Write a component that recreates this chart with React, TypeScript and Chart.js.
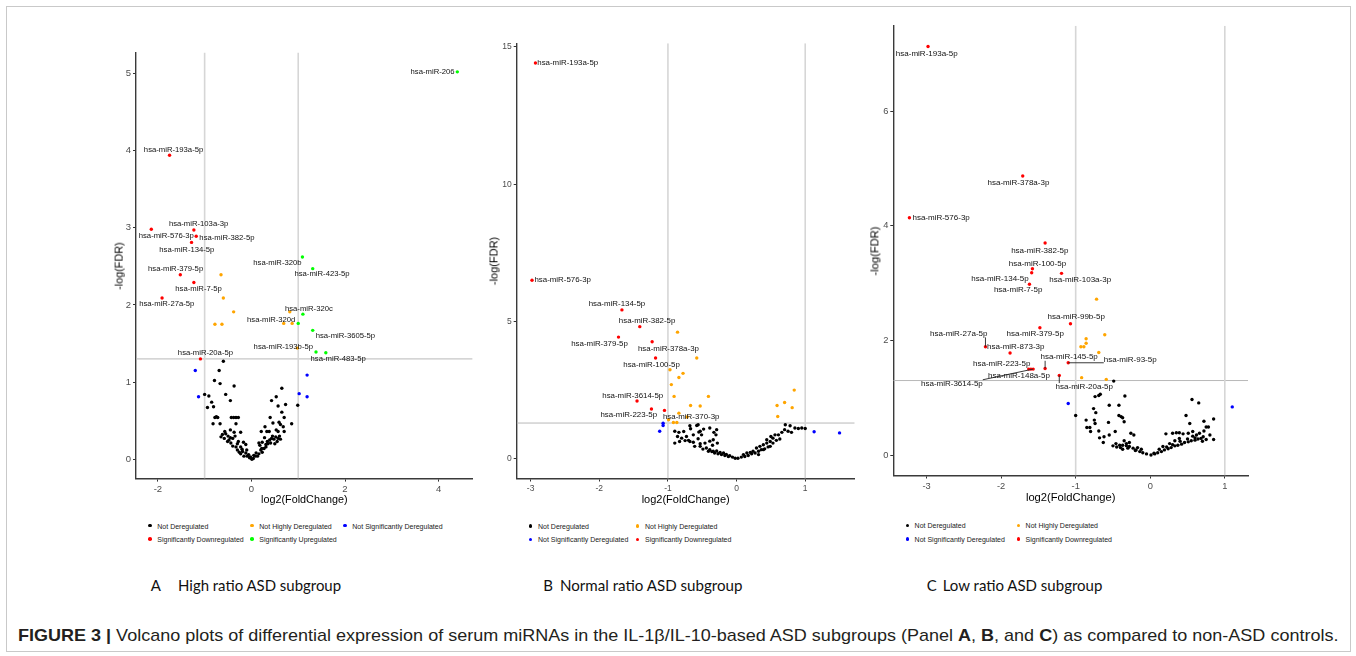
import React, { useEffect, useLayoutEffect, useRef, useState } from 'react';
import { Chart, registerables } from 'chart.js';

Chart.register(...registerables);

type P = [number, number];

// ---------- categories ----------
const CAT_NOT_DEREG = 'Not Deregulated';
const CAT_NOT_HIGHLY = 'Not Highly Deregulated';
const CAT_NOT_SIG = 'Not Significantly Deregulated';
const CAT_DOWN = 'Significantly Downregulated';
const CAT_UP = 'Significantly Upregulated';

const FC_CUTOFFS = [-1, 1];
const FDR_CUTOFF = 1.3;

// ---------- Panel A: High ratio ASD subgroup ----------
const A_NOT_DEREG: P[] = [
  [-0.60, 1.27], [-0.69, 1.15], [-0.79, 1.02], [-0.67, 0.98], [-0.37, 0.95], [-1.00, 0.84], [-0.91, 0.82],
  [-0.55, 0.84], [-0.85, 0.74], [-0.45, 0.76], [-0.94, 0.67], [-0.81, 0.68], [-0.75, 0.55], [-0.78, 0.54],
  [-0.72, 0.54], [-0.43, 0.54], [-0.38, 0.54], [-0.33, 0.54], [-0.28, 0.54], [-0.82, 0.46], [-0.67, 0.46],
  [-0.33, 0.46], [-0.57, 0.36], [-0.45, 0.38], [-0.55, 0.33], [-0.62, 0.32], [-0.65, 0.29], [-0.58, 0.27],
  [-0.48, 0.25], [-0.40, 0.27], [-0.37, 0.35], [-0.23, 0.35], [-0.28, 0.23], [-0.17, 0.22], [-0.12, 0.19],
  [-0.23, 0.16], [-0.33, 0.16], [-0.40, 0.17], [-0.44, 0.21], [-0.51, 0.23], [-0.30, 0.12], [-0.26, 0.09],
  [-0.19, 0.10], [-0.12, 0.08], [-0.06, 0.06], [-0.04, 0.02], [-0.09, 0.04], [-0.16, 0.04], [-0.23, 0.07],
  [0.01, 0.00], [0.04, 0.01], [0.08, 0.04], [0.13, 0.04], [0.16, 0.07], [0.23, 0.09], [0.20, 0.12],
  [0.27, 0.14], [0.31, 0.19], [0.16, 0.21], [0.23, 0.22], [0.34, 0.23], [0.39, 0.25], [0.43, 0.27],
  [0.48, 0.26], [0.52, 0.29], [0.57, 0.27], [0.62, 0.26], [0.55, 0.23], [0.41, 0.21], [0.31, 0.16],
  [0.22, 0.14], [0.33, 0.36], [0.38, 0.36], [0.57, 0.36], [0.70, 0.36], [0.21, 0.36], [0.53, 0.38],
  [0.65, 0.92], [0.53, 0.81], [0.43, 0.76], [0.73, 0.71], [0.57, 0.69], [0.99, 0.70], [0.65, 0.61],
  [0.40, 0.54], [0.70, 0.54], [0.59, 0.48], [0.62, 0.45], [0.46, 0.47], [0.86, 0.46], [0.68, 0.42],
  [0.29, 0.42], [-0.50, 0.30], [-0.45, 0.28], [-0.35, 0.30], [-0.30, 0.20], [-0.20, 0.13], [-0.10, 0.12],
  [0.10, 0.08], [0.18, 0.18], [0.28, 0.28], [0.45, 0.30], [0.50, 0.20], [0.60, 0.30], [0.35, 0.20],
  [0.05, 0.05], [-0.02, 0.03],
];
const A_NOT_HIGHLY: P[] = [
  [-0.65, 2.39], [-0.60, 2.09], [-0.38, 1.91], [-0.78, 1.75], [-0.63, 1.75], [0.69, 1.76], [0.87, 1.76],
  [0.82, 1.91], [0.98, 1.44],
];
const A_NOT_SIG: P[] = [[-1.20, 1.15], [-1.13, 0.81], [1.19, 1.09], [1.02, 0.85], [1.19, 0.81]];
const A_DOWN: P[] = [
  [-1.75, 3.94], [-2.14, 2.98], [-1.23, 2.97], [-1.18, 2.89], [-1.28, 2.81], [-1.52, 2.39], [-1.23, 2.29],
  [-1.91, 2.09], [-1.09, 1.30],
];
const A_DOWN_NAMES = [
  'hsa-miR-193a-5p', 'hsa-miR-576-3p', 'hsa-miR-103a-3p', 'hsa-miR-382-5p', 'hsa-miR-134-5p',
  'hsa-miR-379-5p', 'hsa-miR-7-5p', 'hsa-miR-27a-5p', 'hsa-miR-20a-5p',
];
const A_UP: P[] = [
  [4.40, 5.02], [1.09, 2.62], [1.31, 2.47], [1.10, 1.88], [1.00, 1.76], [1.31, 1.67], [1.38, 1.39], [1.59, 1.38],
];
const A_UP_NAMES = [
  'hsa-miR-206', 'hsa-miR-320b', 'hsa-miR-423-5p', 'hsa-miR-320c', 'hsa-miR-320d', 'hsa-miR-3605-5p',
  'hsa-miR-193b-5p', 'hsa-miR-483-5p',
];
const A_X_TICKS = [-2, 0, 2, 4];
const A_Y_TICKS = [0, 1, 2, 3, 4, 5];

// ---------- Panel B: Normal ratio ASD subgroup ----------
const B_NOT_DEREG: P[] = [
  [-0.90, 1.00], [-0.90, 0.57], [-0.84, 0.96], [-0.77, 0.99], [-0.67, 1.09], [-0.58, 1.21], [-0.55, 0.97],
  [-0.48, 1.08], [-0.39, 1.12], [-0.33, 0.96], [-0.30, 0.87], [-0.86, 0.81], [-0.80, 0.75], [-0.75, 0.66],
  [-0.70, 0.67], [-0.63, 0.60], [-0.56, 0.73], [-0.53, 0.55], [-0.46, 0.57], [-0.39, 0.64], [-0.35, 0.49],
  [-0.28, 0.57], [-0.44, 0.39], [-0.39, 0.33], [-0.34, 0.27], [-0.29, 0.28], [-0.24, 0.23], [-0.19, 0.21],
  [-0.15, 0.16], [-0.10, 0.11], [-0.06, 0.06], [-0.02, 0.02], [-0.12, 0.08], [-0.17, 0.12], [-0.22, 0.15],
  [-0.27, 0.18], [-0.32, 0.21], [-0.36, 0.26], [-0.41, 0.27], [-0.49, 0.35], [-0.53, 0.45], [-0.61, 0.45],
  [-0.68, 0.63], [-0.73, 0.81], [-0.83, 0.63], [-0.63, 0.87], [-0.51, 0.87], [-0.34, 0.69], [-0.29, 1.06],
  [-0.53, 1.00], [-0.68, 1.20], [-0.56, 1.24],
  [0.02, 0.02], [0.07, 0.06], [0.12, 0.08], [0.17, 0.12], [0.22, 0.18], [0.27, 0.21], [0.32, 0.27],
  [0.36, 0.33], [0.41, 0.36], [0.46, 0.43], [0.24, 0.27], [0.29, 0.39], [0.34, 0.45], [0.39, 0.51],
  [0.44, 0.57], [0.49, 0.63], [0.53, 0.75], [0.56, 0.87], [0.61, 0.87], [0.66, 0.96], [0.70, 1.06],
  [0.75, 1.00], [0.80, 0.96], [0.85, 1.12], [0.90, 1.10], [0.95, 1.12], [1.00, 1.10], [0.71, 1.24],
  [0.78, 1.20], [0.53, 0.57], [0.49, 0.45], [0.58, 0.67], [0.63, 0.72], [0.39, 0.33], [0.32, 0.15],
  [0.20, 0.23], [0.44, 0.69], [0.50, 0.81], [0.15, 0.21], [0.10, 0.15],
];
const B_NOT_HIGHLY: P[] = [
  [-0.86, 4.61], [-0.58, 3.67], [-0.97, 3.24], [-0.78, 3.11], [-0.84, 2.96], [-0.95, 2.70], [-0.91, 2.27],
  [-0.41, 2.27], [-0.67, 1.94], [-0.53, 1.92], [-0.84, 1.66], [-0.99, 1.42], [-0.92, 1.32], [-0.87, 1.32],
  [-0.72, 1.52], [0.84, 2.50], [0.70, 2.05], [0.59, 1.94], [0.81, 1.86], [0.60, 1.54],
];
const B_NOT_SIG: P[] = [[-1.07, 1.29], [-1.07, 1.21], [-1.12, 1.00], [1.13, 0.98], [1.50, 0.94]];
const B_DOWN: P[] = [
  [-2.93, 14.41], [-2.98, 6.50], [-1.67, 5.42], [-1.41, 4.81], [-1.72, 4.43], [-1.23, 4.26], [-1.18, 3.67],
  [-1.45, 2.10], [-1.24, 1.81], [-1.05, 1.76],
];
const B_DOWN_NAMES = [
  'hsa-miR-193a-5p', 'hsa-miR-576-3p', 'hsa-miR-134-5p', 'hsa-miR-382-5p', 'hsa-miR-379-5p',
  'hsa-miR-378a-3p', 'hsa-miR-100-5p', 'hsa-miR-3614-5p', 'hsa-miR-223-5p', 'hsa-miR-370-3p',
];
const B_X_TICKS = [-3, -2, -1, 0, 1];
const B_Y_TICKS = [0, 5, 10, 15];

// ---------- Panel C: Low ratio ASD subgroup ----------
const C_NOT_DEREG: P[] = [
  [-0.49, 1.29], [-0.67, 1.06], [-0.69, 1.04], [-0.74, 1.02], [-0.34, 1.03], [-0.55, 0.87], [-0.42, 0.87],
  [-0.76, 0.81], [-0.73, 0.74], [-1.00, 0.69], [-0.42, 0.69], [-0.39, 0.67], [-0.37, 0.65], [-0.35, 0.58],
  [-0.86, 0.61], [-0.75, 0.61], [-0.74, 0.55], [-0.85, 0.48], [-0.81, 0.48], [-0.80, 0.41], [-0.69, 0.42],
  [-0.56, 0.57], [-0.47, 0.41], [-0.55, 0.35], [-0.62, 0.32], [-0.68, 0.30], [-0.63, 0.22], [-0.26, 0.38],
  [-0.22, 0.35], [-0.46, 0.20], [-0.41, 0.17], [-0.37, 0.17], [-0.32, 0.16], [-0.28, 0.15], [-0.23, 0.12],
  [-0.19, 0.09], [-0.14, 0.06], [-0.10, 0.04], [-0.05, 0.02], [-0.50, 0.16], [-0.32, 0.20], [-0.17, 0.13],
  [-0.12, 0.10], [-0.37, 0.10], [-0.45, 0.14], [-0.40, 0.13], [-0.30, 0.12], [-0.20, 0.08], [-0.35, 0.25],
  [-0.28, 0.22],
  [0.01, 0.00], [0.06, 0.02], [0.10, 0.04], [0.15, 0.06], [0.19, 0.09], [0.24, 0.11], [0.28, 0.13],
  [0.33, 0.16], [0.37, 0.17], [0.42, 0.19], [0.46, 0.22], [0.51, 0.23], [0.55, 0.25], [0.60, 0.26],
  [0.64, 0.28], [0.68, 0.29], [0.21, 0.37], [0.30, 0.38], [0.35, 0.39], [0.39, 0.39], [0.44, 0.37],
  [0.51, 0.38], [0.57, 0.41], [0.66, 0.38], [0.72, 0.42], [0.75, 0.49], [0.78, 0.49], [0.53, 0.55],
  [0.72, 0.59], [0.85, 0.63], [0.48, 0.69], [0.56, 0.97], [0.65, 0.91], [0.85, 0.27], [0.57, 0.33],
  [0.62, 0.35], [0.39, 0.29], [0.33, 0.25], [0.26, 0.20], [0.17, 0.15], [0.80, 0.35], [0.71, 0.32],
  [0.05, 0.03], [0.12, 0.10], [0.22, 0.14], [0.30, 0.18], [0.40, 0.24], [0.50, 0.28], [0.60, 0.30],
  [0.70, 0.24], [0.75, 0.27],
];
const C_NOT_HIGHLY: P[] = [
  [-0.72, 2.72], [-0.61, 2.10], [-0.86, 2.03], [-0.86, 1.95], [-0.89, 1.89], [-0.93, 1.89], [-0.69, 1.79],
  [-0.92, 1.35], [-0.59, 1.32],
];
const C_NOT_SIG: P[] = [[-1.10, 0.90], [1.10, 0.84]];
const C_DOWN: P[] = [
  [-2.98, 7.13], [-1.71, 4.87], [-3.23, 4.14], [-1.41, 3.70], [-1.58, 3.25], [-1.59, 3.18], [-1.19, 3.17],
  [-1.62, 2.98], [-1.07, 2.29], [-1.48, 2.22], [-2.21, 1.89], [-1.88, 1.78], [-1.63, 1.50], [-1.41, 1.51],
  [-1.10, 1.61], [-1.60, 1.50], [-1.57, 1.50], [-1.22, 1.39],
];
const C_DOWN_NAMES = [
  'hsa-miR-193a-5p', 'hsa-miR-378a-3p', 'hsa-miR-576-3p', 'hsa-miR-382-5p', 'hsa-miR-100-5p',
  'hsa-miR-134-5p', 'hsa-miR-103a-3p', 'hsa-miR-7-5p', 'hsa-miR-99b-5p', 'hsa-miR-379-5p',
  'hsa-miR-27a-5p', 'hsa-miR-873-3p', 'hsa-miR-223-5p', 'hsa-miR-145-5p', 'hsa-miR-93-5p',
  'hsa-miR-148a-5p', 'hsa-miR-3614-5p', 'hsa-miR-20a-5p',
];
const C_X_TICKS = [-3, -2, -1, 0, 1];
const C_Y_TICKS = [0, 2, 4, 6];

// ---------- styles / layout (kept apart from the data) ----------
const FONT = '"Liberation Sans", Arial, Helvetica, sans-serif';
const COLOR: Record<string, string> = {
  [CAT_NOT_DEREG]: '#000000',
  [CAT_NOT_HIGHLY]: '#FFA500',
  [CAT_NOT_SIG]: '#0000FF',
  [CAT_DOWN]: '#FF0000',
  [CAT_UP]: '#00FF00',
};

// label offsets in px [dx, dy, segment]
const A_DOWN_OFF: [number, number, number][] = [
  [4, -5.7, 0], [15, 7, 0], [4.7, -6, 0], [30.7, 2, 0], [-4.7, 7.3, 0], [-4.7, -5.7, 0], [4.7, 6, 0],
  [4.7, 6, 0], [5, -5.7, 0],
];
const A_UP_OFF: [number, number, number][] = [
  [-24.7, 0, 0], [-25, 6, 0], [9.3, 5.7, 0], [6, -5.3, 0], [-27, -3.7, 0], [32.7, 6, 0], [-32.7, -4.7, 0],
  [12.3, 5.7, 0],
];
const B_DOWN_OFF: [number, number, number][] = [
  [32.3, 0, 0], [30.7, 0, 0], [-5, -6, 0], [7.3, -5.7, 0], [-19, 6.7, 0], [16.3, 6.7, 0], [-4, 6.7, 0],
  [-4.3, -5.7, 0], [-22.7, 6, 0], [26.7, 6, 0],
];
const C_DOWN_OFF: [number, number, number][] = [
  [-1.3, 7, 0], [-4.3, 6.7, 0], [31.7, 0, 0], [-5.3, 7.7, 0], [5, -5, 0], [-31.7, 5.7, 0], [18.7, 6.3, 0],
  [-11.3, 6, 0], [5.7, -6.7, 0], [-4.7, 6.3, 0], [-26.7, -13.3, 1], [5.7, -6, 0], [-27, -5.3, 0],
  [24, -11.7, 1], [62, -2.7, 1], [-12, 6.7, 0], [-81.3, 14.7, 1], [25, 11.7, 1],
];

type Series = { name: string; points: P[]; names?: string[]; offsets?: [number, number, number][] };

type PanelSpec = {
  series: Series[];
  xMin: number; xMax: number; yMin: number; yMax: number;
  xTicks: number[]; yTicks: number[];
  area: { left: number; top: number; right: number; bottom: number };
  canvas: { left: number; top: number; w: number; h: number };
  tickSize: number; labelSize: number;
};

const PANEL_A: PanelSpec = {
  series: [
    { name: CAT_NOT_DEREG, points: A_NOT_DEREG },
    { name: CAT_NOT_HIGHLY, points: A_NOT_HIGHLY },
    { name: CAT_NOT_SIG, points: A_NOT_SIG },
    { name: CAT_DOWN, points: A_DOWN, names: A_DOWN_NAMES, offsets: A_DOWN_OFF },
    { name: CAT_UP, points: A_UP, names: A_UP_NAMES, offsets: A_UP_OFF },
  ],
  xMin: -2.467, xMax: 4.727, yMin: -0.251, yMax: 5.271,
  xTicks: A_X_TICKS, yTicks: A_Y_TICKS,
  area: { left: 136, top: 52.5, right: 472.6, bottom: 478.6 },
  canvas: { left: 100, top: 30, w: 390, h: 470 },
  tickSize: 9.5, labelSize: 7.7,
};
const PANEL_B: PanelSpec = {
  series: [
    { name: CAT_NOT_DEREG, points: B_NOT_DEREG },
    { name: CAT_NOT_HIGHLY, points: B_NOT_HIGHLY },
    { name: CAT_NOT_SIG, points: B_NOT_SIG },
    { name: CAT_DOWN, points: B_DOWN, names: B_DOWN_NAMES, offsets: B_DOWN_OFF },
  ],
  xMin: -3.203, xMax: 1.721, yMin: -0.72, yMax: 15.13,
  xTicks: B_X_TICKS, yTicks: B_Y_TICKS,
  area: { left: 516.7, top: 43.3, right: 854.7, bottom: 478.5 },
  canvas: { left: 480, top: 20, w: 390, h: 480 },
  tickSize: 8.5, labelSize: 7.9,
};
const PANEL_C: PanelSpec = {
  series: [
    { name: CAT_NOT_DEREG, points: C_NOT_DEREG },
    { name: CAT_NOT_HIGHLY, points: C_NOT_HIGHLY },
    { name: CAT_NOT_SIG, points: C_NOT_SIG },
    { name: CAT_DOWN, points: C_DOWN, names: C_DOWN_NAMES, offsets: C_DOWN_OFF },
  ],
  xMin: -3.446, xMax: 1.311, yMin: -0.357, yMax: 7.49,
  xTicks: C_X_TICKS, yTicks: C_Y_TICKS,
  area: { left: 893.3, top: 25.8, right: 1248, bottom: 475.5 },
  canvas: { left: 855, top: 10, w: 405, h: 490 },
  tickSize: 9.3, labelSize: 8,
};

const pointLabelPlugin = {
  id: 'pointLabels',
  afterDatasetsDraw(chart: any, _args: any, opts: any) {
    const items = (opts && opts.items) || [];
    const ctx = chart.ctx;
    const xs = chart.scales.x;
    const ys = chart.scales.y;
    ctx.save();
    ctx.font = `${opts.size}px ${FONT}`;
    ctx.textAlign = 'center';
    ctx.textBaseline = 'middle';
    for (const it of items) {
      const px = xs.getPixelForValue(it.x);
      const py = ys.getPixelForValue(it.y);
      const lx = px + it.dx;
      const ly = py + it.dy;
      if (it.seg) {
        const w = ctx.measureText(it.text).width;
        const h = opts.size;
        const bx = Math.min(Math.max(px, lx - w / 2), lx + w / 2);
        const by = Math.min(Math.max(py, ly - h / 2), ly + h / 2);
        ctx.strokeStyle = '#222';
        ctx.lineWidth = 0.9;
        ctx.beginPath();
        ctx.moveTo(px, py);
        ctx.lineTo(bx, by);
        ctx.stroke();
      }
      ctx.fillStyle = '#111';
      ctx.fillText(it.text, lx, ly);
    }
    ctx.restore();
  },
};

function buildConfig(spec: PanelSpec): any {
  const datasets: any[] = [];
  const labels: any[] = [];
  spec.series.forEach((s) => {
    datasets.push({
      label: s.name,
      data: s.points.map(([x, y]) => ({ x, y })),
      backgroundColor: COLOR[s.name],
      borderWidth: 0,
      pointRadius: 1.7,
      pointHoverRadius: 1.7,
      showLine: false,
      order: 1,
    });
    if (s.names && s.offsets) {
      s.points.forEach(([x, y], i) => {
        const o = s.offsets![i];
        labels.push({ x, y, text: s.names![i], dx: o[0], dy: o[1], seg: !!o[2] });
      });
    }
  });
  FC_CUTOFFS.forEach((c) => {
    datasets.push({
      label: 'fc' + c,
      data: [{ x: c, y: spec.yMin }, { x: c, y: spec.yMax }],
      borderColor: '#d6d6d6',
      borderWidth: 1.6,
      pointRadius: 0,
      showLine: true,
      order: 5,
    });
  });
  datasets.push({
    label: 'fdr',
    data: [{ x: spec.xMin, y: FDR_CUTOFF }, { x: spec.xMax, y: FDR_CUTOFF }],
    borderColor: '#b8b8b8',
    borderWidth: 1,
    pointRadius: 0,
    showLine: true,
    order: 5,
  });

  const yAxisW = spec.area.left - spec.canvas.left;
  const xAxisH = spec.canvas.top + spec.canvas.h - spec.area.bottom;
  const padTop = spec.area.top - spec.canvas.top;
  const padRight = spec.canvas.left + spec.canvas.w - spec.area.right;

  const axisCommon = (ticks: number[]) => ({
    type: 'linear',
    afterBuildTicks: (ax: any) => {
      ax.ticks = ticks.map((v) => ({ value: v }));
    },
    grid: { display: true, drawOnChartArea: false, drawTicks: true, tickLength: 3, tickWidth: 1, tickColor: '#333' },
    border: { display: true, color: '#3a3a3a', width: 1.4 },
    ticks: {
      color: '#4d4d4d',
      font: { family: FONT, size: spec.tickSize },
      padding: 2,
      autoSkip: false,
      maxRotation: 0,
      callback: (v: any) => String(v),
    },
  });

  return {
    type: 'scatter',
    data: { datasets },
    plugins: [pointLabelPlugin],
    options: {
      animation: false,
      responsive: false,
      devicePixelRatio: 1,
      events: [],
      layout: { padding: { top: padTop, right: padRight, left: 0, bottom: 0 } },
      plugins: {
        legend: { display: false },
        title: { display: false },
        tooltip: { enabled: false },
        pointLabels: { items: labels, size: spec.labelSize },
      },
      scales: {
        x: {
          ...axisCommon(spec.xTicks),
          position: 'bottom',
          min: spec.xMin,
          max: spec.xMax,
          afterFit: (ax: any) => {
            ax.height = xAxisH;
          },
        },
        y: {
          ...axisCommon(spec.yTicks),
          position: 'left',
          min: spec.yMin,
          max: spec.yMax,
          afterFit: (ax: any) => {
            ax.width = yAxisW;
          },
        },
      },
    },
  };
}

function VolcanoPanel({ spec }: { spec: PanelSpec }) {
  const ref = useRef<HTMLCanvasElement>(null);
  useEffect(() => {
    const chart = new Chart(ref.current as HTMLCanvasElement, buildConfig(spec));
    return () => chart.destroy();
  }, [spec]);
  return (
    <canvas
      ref={ref}
      width={spec.canvas.w}
      height={spec.canvas.h}
      style={{ position: 'absolute', left: spec.canvas.left, top: spec.canvas.top, width: spec.canvas.w, height: spec.canvas.h }}
    />
  );
}

function FitText({ left, top, width, style, children }: any) {
  const ref = useRef<HTMLDivElement>(null);
  const [sx, setSx] = useState(1);
  useLayoutEffect(() => {
    const el = ref.current;
    if (el && el.offsetWidth > 0) setSx(width / el.offsetWidth);
  }, [width]);
  return (
    <div
      ref={ref}
      style={{
        position: 'absolute', left, top, whiteSpace: 'nowrap', transformOrigin: '0 0',
        transform: `scaleX(${sx})`, ...style,
      }}
    >
      {children}
    </div>
  );
}

function AxisTitles({ xc, xy, yc, yy, size }: any) {
  const base: React.CSSProperties = {
    position: 'absolute', fontFamily: FONT, fontSize: size, color: '#000', whiteSpace: 'nowrap', lineHeight: 1,
  };
  return (
    <>
      <div style={{ ...base, left: xc, top: xy, transform: 'translate(-50%,-50%)' }}>log2(FoldChange)</div>
      <div style={{ ...base, left: yc, top: yy, transform: 'translate(-50%,-50%) rotate(-90deg)' }}>-log(FDR)</div>
    </>
  );
}

function Legend({ cols, rows, items }: { cols: number[]; rows: number[]; items: string[][] }) {
  const out: any[] = [];
  items.forEach((row, r) =>
    row.forEach((name, c) => {
      out.push(
        <div key={name} style={{ position: 'absolute', left: cols[c] - 1.8, top: rows[r] - 1.8, width: 3.6, height: 3.6, borderRadius: '50%', background: COLOR[name] }} />,
        <div key={name + 't'} style={{ position: 'absolute', left: cols[c] + 7.3, top: rows[r], transform: 'translateY(-50%)', fontFamily: FONT, fontSize: 7, lineHeight: 1, color: '#222', whiteSpace: 'nowrap' }}>{name}</div>,
      );
    }),
  );
  return <>{out}</>;
}

const SUB_FONT: React.CSSProperties = { fontFamily: 'Lato, "Open Sans", sans-serif', fontSize: 15, lineHeight: '16px', color: '#111' };

export default function App() {
  return (
    <div style={{ position: 'absolute', left: 0, top: 0, width: 1356, height: 656, background: '#fff', overflow: 'hidden' }}>
      <div style={{ position: 'absolute', left: 6, top: 6, width: 1343, height: 644, border: '1px solid #c9c9c9' }} />

      <VolcanoPanel spec={PANEL_A} />
      <VolcanoPanel spec={PANEL_B} />
      <VolcanoPanel spec={PANEL_C} />

      <AxisTitles xc={304.3} xy={499} yc={119} yy={265.5} size={10.8} />
      <AxisTitles xc={685.7} xy={499} yc={493.5} yy={261} size={11} />
      <AxisTitles xc={1070.7} xy={497.5} yc={875} yy={251} size={11.2} />

      <Legend cols={[150, 252, 345]} rows={[525.7, 539]} items={[[CAT_NOT_DEREG, CAT_NOT_HIGHLY, CAT_NOT_SIG], [CAT_DOWN, CAT_UP]]} />
      <Legend cols={[530.7, 637.7]} rows={[526, 539.3]} items={[[CAT_NOT_DEREG, CAT_NOT_HIGHLY], [CAT_NOT_SIG, CAT_DOWN]]} />
      <Legend cols={[907.3, 1018.3]} rows={[525.3, 539]} items={[[CAT_NOT_DEREG, CAT_NOT_HIGHLY], [CAT_NOT_SIG, CAT_DOWN]]} />

      <div style={{ position: 'absolute', left: 150.7, top: 576.5, ...SUB_FONT }}>A</div>
      <FitText left={177.7} top={576.5} width={163.3} style={SUB_FONT}>High ratio ASD subgroup</FitText>
      <div style={{ position: 'absolute', left: 543.3, top: 576.5, ...SUB_FONT }}>B</div>
      <FitText left={560} top={576.5} width={182.3} style={SUB_FONT}>Normal ratio ASD subgroup</FitText>
      <div style={{ position: 'absolute', left: 926.7, top: 576.5, ...SUB_FONT }}>C</div>
      <FitText left={942.7} top={576.5} width={160} style={SUB_FONT}>Low ratio ASD subgroup</FitText>

      <FitText left={18} top={627} width={1320} style={{ fontFamily: FONT, fontSize: 17, lineHeight: '18px', color: '#231f20' }}>
        <b>FIGURE 3 |</b> Volcano plots of differential expression of serum miRNAs in the IL-1β/IL-10-based ASD subgroups (Panel <b>A</b>, <b>B</b>, and <b>C</b>) as compared to non-ASD controls.
      </FitText>
    </div>
  );
}
